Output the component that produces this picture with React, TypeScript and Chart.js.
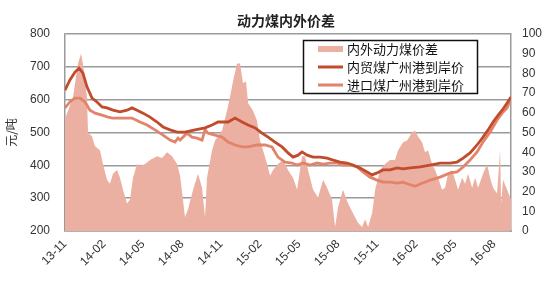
import React, { useEffect, useRef } from "react";
import { Chart, registerables } from "chart.js";

Chart.register(...registerables);

const title = "动力煤内外价差";
const yTitle = "元/吨";
const seriesNames = ["内外动力煤价差", "内贸煤广州港到岸价", "进口煤广州港到岸价"];
const tickLabels = ["13-11", "14-02", "14-05", "14-08", "14-11", "15-02", "15-05", "15-08", "15-11", "16-02", "16-05", "16-08"];

// x positions in months since 2013-11
const spreadMonths = [0, 0.23, 0.62, 1.0, 1.23, 1.38, 1.69, 1.77, 2.08, 2.31, 2.69, 2.92, 3.23, 3.46, 3.69, 4.0, 4.23, 4.46, 4.77, 5.0, 5.23, 5.54, 5.77, 6.15, 6.54, 7.08, 7.46, 7.85, 8.23, 8.62, 8.85, 9.23, 9.46, 9.85, 10.23, 10.54, 10.77, 10.92, 11.31, 11.54, 12.08, 12.46, 12.69, 12.92, 13.23, 13.46, 13.69, 13.92, 14.08, 14.46, 14.77, 15.0, 15.23, 15.54, 15.77, 16.0, 16.38, 16.77, 17.15, 17.54, 17.85, 18.23, 18.46, 18.69, 19.08, 19.46, 19.85, 20.15, 20.54, 20.77, 21.0, 21.38, 21.77, 22.15, 22.54, 22.85, 23.08, 23.31, 23.62, 23.85, 24.23, 24.62, 25.0, 25.38, 25.62, 26.0, 26.31, 26.69, 26.92, 27.15, 27.46, 27.69, 27.92, 28.23, 28.46, 28.69, 29.0, 29.23, 29.46, 29.77, 30.0, 30.23, 30.54, 30.77, 31.0, 31.31, 31.54, 31.77, 32.15, 32.46, 32.69, 32.92, 33.23, 33.46, 33.54, 33.69, 34.0, 34.3];
const spreadValues = [57, 61, 68, 85, 90, 85, 68, 50, 48, 43, 41, 34, 26, 24, 29, 31, 27, 21, 14, 16, 27, 34, 33, 34, 36, 38, 37, 40, 38, 34, 28, 7, 11, 21, 29, 22, 7, 27, 41, 46, 51, 61, 68, 76, 85, 85, 75, 76, 65, 61, 56, 46, 41, 34, 28, 31, 34, 36, 31, 27, 21, 38, 38, 31, 21, 17, 26, 22, 16, 2, 12, 21, 14, 9, 4, 2, 6, 2, 9, 21, 31, 34, 36, 36, 41, 45, 46, 50, 51, 48, 45, 40, 41, 34, 31, 27, 21, 22, 29, 31, 26, 21, 27, 24, 29, 22, 27, 22, 29, 34, 27, 22, 19, 41, 14, 26, 21, 16];

const domesticMonths = [0, 0.38, 0.77, 1.08, 1.38, 1.69, 2.08, 2.46, 2.85, 3.23, 3.69, 4.23, 4.77, 5.15, 5.54, 6.0, 6.54, 7.08, 7.54, 8.08, 8.62, 9.23, 10.0, 10.77, 11.31, 11.77, 12.54, 13.08, 13.62, 14.08, 14.62, 15.15, 15.62, 16.15, 16.69, 17.15, 17.54, 17.92, 18.23, 18.62, 19.08, 19.62, 20.15, 20.62, 21.15, 21.69, 22.15, 22.69, 23.23, 23.62, 24.0, 24.46, 25.0, 25.54, 26.0, 26.54, 27.31, 28.08, 28.85, 29.62, 30.15, 30.62, 31.15, 31.69, 32.15, 32.54, 32.92, 33.31, 33.62, 34.0, 34.3];
const domesticValues = [629, 660, 684, 696, 681, 639, 605, 593, 578, 575, 568, 563, 568, 575, 568, 559, 547, 532, 517, 508, 501, 501, 508, 514, 523, 532, 532, 544, 532, 523, 514, 498, 486, 471, 456, 438, 425, 431, 441, 431, 425, 425, 422, 416, 410, 407, 401, 392, 380, 371, 377, 386, 386, 392, 389, 392, 395, 401, 407, 407, 410, 422, 438, 462, 486, 508, 532, 553, 568, 590, 608];

const importMonths = [0, 0.38, 0.77, 1.15, 1.54, 1.92, 2.31, 2.85, 3.31, 3.69, 4.23, 4.77, 5.15, 5.77, 6.31, 6.92, 7.54, 8.08, 8.46, 8.69, 8.85, 9.38, 9.77, 10.15, 10.54, 10.77, 11.0, 11.54, 12.08, 12.54, 13.08, 13.62, 14.08, 14.77, 15.38, 15.92, 16.38, 16.92, 17.46, 17.85, 18.31, 18.85, 19.38, 19.85, 20.38, 20.92, 21.38, 21.92, 22.46, 22.92, 23.46, 24.0, 24.46, 25.0, 25.54, 26.0, 26.38, 26.92, 27.31, 28.08, 28.85, 29.62, 30.15, 30.62, 31.15, 31.69, 32.15, 32.69, 33.23, 33.62, 34.0, 34.3];
const importValues = [575, 593, 605, 605, 593, 568, 559, 553, 547, 544, 544, 544, 544, 532, 523, 508, 492, 477, 471, 483, 477, 498, 486, 483, 477, 508, 498, 492, 486, 471, 462, 456, 456, 462, 462, 456, 425, 410, 407, 401, 407, 401, 407, 404, 407, 407, 401, 401, 395, 380, 364, 355, 349, 349, 346, 349, 343, 336, 343, 355, 364, 377, 380, 395, 416, 441, 471, 501, 538, 559, 575, 605];

const COLORS = {
  area: "#ebb0a1",
  domestic: "#c14b2c",
  import: "#e2836a",
  grid: "#9a9a9a",
  text: "#333333",
};

const toPoints = (xs: number[], ys: number[]) => xs.map((x, i) => ({ x, y: ys[i] }));

const decorPlugin = {
  id: "decor",
  afterDraw(chart: any) {
    const ctx = chart.ctx;
    ctx.save();
    // title
    ctx.fillStyle = "#222";
    ctx.font = "bold 14px 'Noto Sans CJK SC'";
    ctx.textAlign = "center";
    ctx.textBaseline = "middle";
    ctx.fillText(title, 286, 21);
    // legend box
    const bx = 303.5, by = 40.5, bw = 174, bh = 53;
    ctx.fillStyle = "#ffffff";
    ctx.fillRect(bx, by, bw, bh);
    ctx.strokeStyle = "#111";
    ctx.lineWidth = 1.5;
    ctx.strokeRect(bx, by, bw, bh);
    const ds = chart.data.datasets;
    const rows = [49, 67, 85];
    ctx.font = "13px 'Noto Sans CJK SC'";
    ctx.textAlign = "left";
    ds.forEach((d: any, i: number) => {
      const y = rows[i];
      if (i === 0) {
        ctx.fillStyle = d.backgroundColor;
        ctx.fillRect(318, y - 3, 25, 6);
      } else {
        ctx.strokeStyle = d.borderColor;
        ctx.lineWidth = 3;
        ctx.beginPath();
        ctx.moveTo(318, y);
        ctx.lineTo(343, y);
        ctx.stroke();
      }
      ctx.fillStyle = "#111";
      ctx.fillText(d.label, 347, y + 0.5);
    });
    ctx.restore();
  },
};

export default function App() {
  const ref = useRef<HTMLCanvasElement | null>(null);
  useEffect(() => {
    if (!ref.current) return;
    const chart = new Chart(ref.current, {
      type: "line",
      data: {
        datasets: [
          {
            label: seriesNames[0],
            data: toPoints(spreadMonths, spreadValues),
            yAxisID: "y1",
            backgroundColor: COLORS.area,
            borderColor: COLORS.area,
            borderWidth: 0,
            pointRadius: 0,
            fill: "origin",
            tension: 0,
            order: 3,
          },
          {
            label: seriesNames[1],
            data: toPoints(domesticMonths, domesticValues),
            yAxisID: "y",
            borderColor: COLORS.domestic,
            backgroundColor: COLORS.domestic,
            borderWidth: 2.8,
            pointRadius: 0,
            fill: false,
            tension: 0,
            order: 1,
          },
          {
            label: seriesNames[2],
            data: toPoints(importMonths, importValues),
            yAxisID: "y",
            borderColor: COLORS.import,
            backgroundColor: COLORS.import,
            borderWidth: 2.8,
            pointRadius: 0,
            fill: false,
            tension: 0,
            order: 2,
          },
        ],
      },
      options: {
        animation: false,
        responsive: false,
        maintainAspectRatio: false,
        layout: { padding: { top: 34, left: 0, right: 0, bottom: 0 } },
        plugins: {
          legend: { display: false },
          title: { display: false },
          tooltip: { enabled: false },
        },
        scales: {
          x: {
            type: "linear",
            min: 0,
            max: 34.3,
            grid: { display: false, drawTicks: false },
            border: { display: true, color: COLORS.grid, width: 1.5 },
            afterBuildTicks: (s: any) => {
              s.ticks = tickLabels.map((_, i) => ({ value: i * 3 }));
            },
            ticks: {
              autoSkip: false,
              minRotation: 45,
              maxRotation: 45,
              padding: 6,
              color: COLORS.text,
              font: { family: "'Liberation Sans', Arial, sans-serif", size: 12 },
              callback: (v: any) => {
                const i = Math.round(Number(v) / 3);
                return tickLabels[i] ?? "";
              },
            },
            afterFit: (s: any) => {
              s.height = 53;
            },
          },
          y: {
            position: "left",
            min: 200,
            max: 800,
            grid: { color: COLORS.grid, lineWidth: 1.5, drawTicks: false },
            border: { display: true, color: COLORS.grid, width: 1.5 },
            ticks: {
              stepSize: 100,
              padding: 15,
              color: COLORS.text,
              font: { family: "'Liberation Sans', Arial, sans-serif", size: 12 },
            },
            title: {
              display: true,
              text: yTitle,
              color: COLORS.text,
              font: { family: "'Noto Sans CJK SC'", size: 12 },
              padding: { top: 4, bottom: 0 },
            },
            afterFit: (s: any) => {
              s.width = 65;
            },
          },
          y1: {
            position: "right",
            min: 0,
            max: 100,
            grid: { display: false, drawTicks: false },
            border: { display: true, color: COLORS.grid, width: 1.5 },
            ticks: {
              stepSize: 10,
              padding: 11,
              color: COLORS.text,
              font: { family: "'Liberation Sans', Arial, sans-serif", size: 12 },
            },
            afterFit: (s: any) => {
              s.width = 39;
            },
          },
        },
      },
      plugins: [decorPlugin],
    });
    return () => chart.destroy();
  }, []);
  return (
    <div style={{ position: "absolute", left: 0, top: 0, width: 550, height: 284, background: "#fff" }}>
      <canvas ref={ref} width={550} height={284} style={{ width: 550, height: 284 }} />
    </div>
  );
}
